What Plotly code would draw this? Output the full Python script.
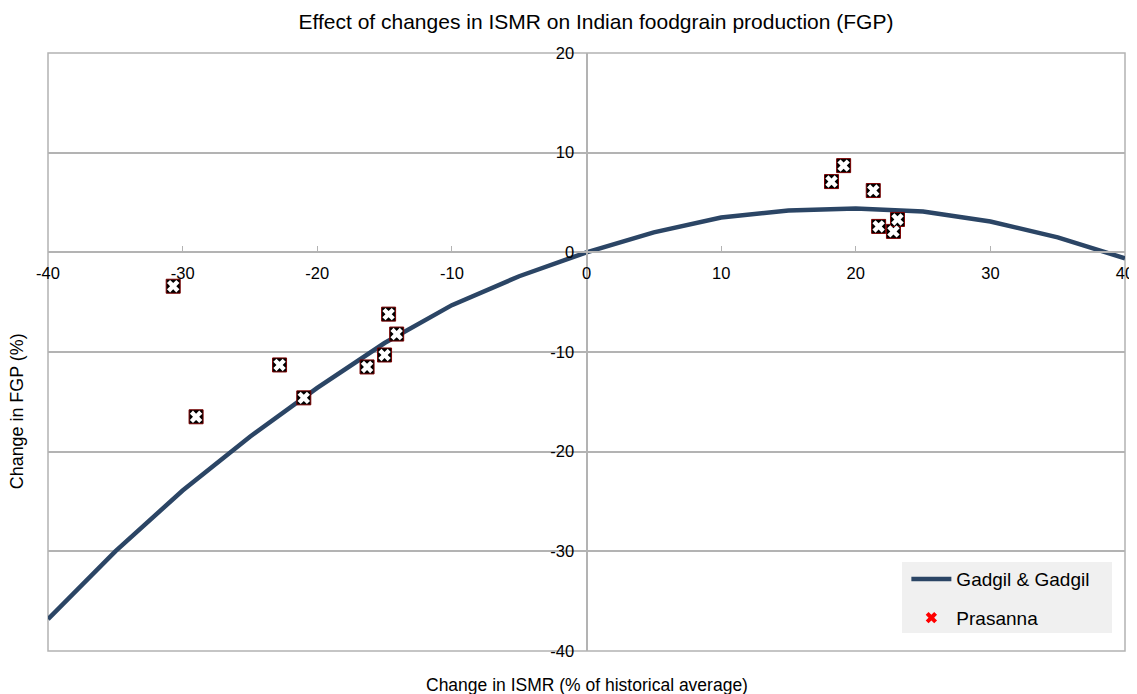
import plotly.graph_objects as go

# Gadgil & Gadgil curve
gadgil_x = [-40, -35, -30, -25, -20, -15, -10, -5, 0, 5, 10, 15, 20, 25, 30, 35, 40]
gadgil_y = [-36.8, -30.0, -23.9, -18.5, -13.6, -9.1, -5.3, -2.4, 0.0, 2.0, 3.5, 4.2, 4.4, 4.1, 3.1, 1.5, -0.6]

# Prasanna points
prasanna_x = [-30.7, -29.0, -22.8, -21.0, -16.3, -15.0, -14.7, -14.1, 18.2, 19.1, 21.3, 21.7, 22.8, 23.1]
prasanna_y = [-3.4, -16.5, -11.3, -14.6, -11.5, -10.3, -6.2, -8.2, 7.1, 8.7, 6.2, 2.6, 2.1, 3.3]

x_ticks = [-40, -30, -20, -10, 0, 10, 20, 30, 40]
x_labels = ["-40", "-30", "-20", "-10", "0", "10", "20", "30", "40"]
y_ticks = [-40, -30, -20, -10, 0, 10, 20]
y_labels = ["-40", "-30", "-20", "-10", "0", "10", "20"]

FONT = "Liberation Sans, Arial, sans-serif"

fig = go.Figure()
fig.add_trace(go.Scatter(
    x=gadgil_x, y=gadgil_y, mode="lines", name="Gadgil & Gadgil",
    line=dict(color="#2b4565", width=4.5), legendgroup="g1",
))
fig.add_trace(go.Scatter(
    x=prasanna_x, y=prasanna_y, mode="markers", showlegend=False,
    marker=dict(symbol="square", size=14, color="#000000", line=dict(color="#7a0000", width=1)),
    hoverinfo="skip",
))
fig.add_trace(go.Scatter(
    x=prasanna_x, y=prasanna_y, mode="markers", showlegend=False,
    marker=dict(symbol="x", size=11, color="#ffffff", line=dict(width=0)),
    hoverinfo="skip",
))
fig.add_trace(go.Scatter(
    x=[None], y=[None], mode="markers", name="Prasanna", legendgroup="g2",
    marker=dict(symbol="x", size=10, color="#ff0000", line=dict(width=0)),
))

fig.update_layout(
    width=1129, height=686,
    margin=dict(l=40, r=12, t=45, b=43),
    paper_bgcolor="white", plot_bgcolor="white",
    font=dict(family=FONT, size=16, color="#000000"),
    title=dict(text="Effect of changes in ISMR on Indian foodgrain production (FGP)",
               x=0.5208, xanchor="center", y=0.9796, yanchor="middle",
               font=dict(family=FONT, size=21)),
    xaxis=dict(range=[-40, 40], tickvals=x_ticks, ticktext=x_labels, showgrid=False,
               zeroline=False, showline=True, linecolor="#b3b3b3", linewidth=2,
               anchor="free", position=40 / 60, ticks="inside", ticklen=5, tickcolor="#b3b3b3",
               tickfont=dict(size=16.5), automargin=False, ticklabelstandoff=6),
    yaxis=dict(range=[-40, 20], tickvals=y_ticks, ticktext=y_labels, showgrid=True,
               gridcolor="#b3b3b3", gridwidth=1.5,
               zeroline=False, showline=True, linecolor="#b3b3b3", linewidth=2,
               anchor="free", position=0.5, ticks="inside", ticklen=5, tickcolor="#b3b3b3",
               tickfont=dict(size=16.5), automargin=False, ticklabelstandoff=8),
    legend=dict(x=0.797, y=0.152, xanchor="left", yanchor="top",
                bgcolor="rgba(0,0,0,0)", borderwidth=0, font=dict(size=19),
                itemwidth=40, traceorder="grouped", tracegroupgap=11),
    shapes=[
        dict(type="rect", xref="paper", yref="paper", x0=0, x1=1, y0=0, y1=1,
             line=dict(color="#b3b3b3", width=1.5), layer="below"),
        dict(type="rect", xref="paper", yref="paper", x0=0.7930, x1=0.9879, y0=0.0301, y1=0.1488,
             line=dict(width=0), fillcolor="#f0f0f0", layer="above"),
    ],
    annotations=[
        dict(text="Change in ISMR (% of historical average)", xref="paper", yref="paper",
             x=0.5, y=-0.0569, xanchor="center", yanchor="middle", showarrow=False,
             font=dict(size=17.5)),
        dict(text="Change in FGP (%)", xref="paper", yref="paper", textangle=-90,
             x=-0.0288, y=0.401, xanchor="center", yanchor="middle", showarrow=False,
             font=dict(size=17.9)),
    ],
)

fig.write_html("out.html")
